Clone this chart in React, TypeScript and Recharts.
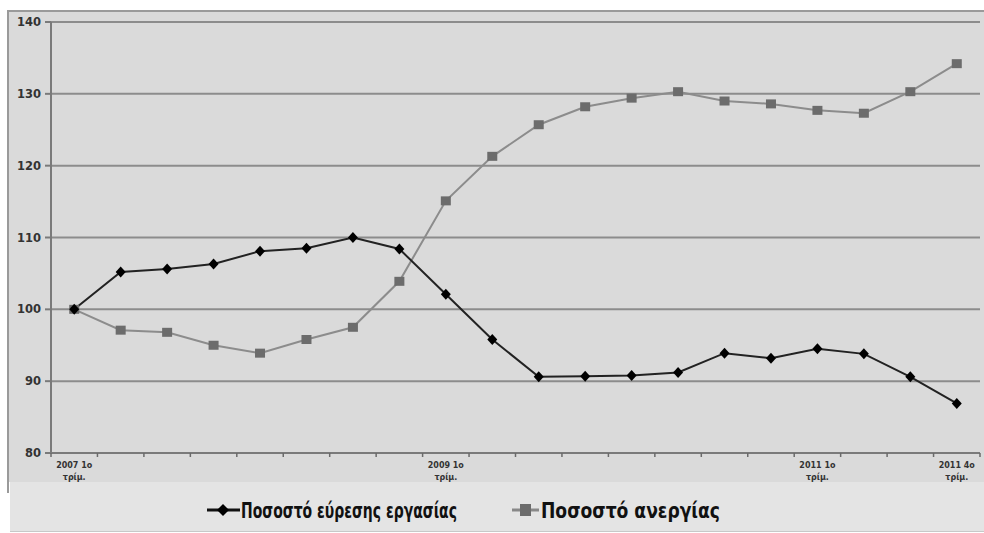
import React from "react";
import { CartesianGrid, Legend, Line, LineChart, XAxis, YAxis } from "recharts";

// quarterly index, 2007 1st quarter = 100
const quarters = [
  "2007 1ο τρίμ.", "2007 2ο τρίμ.", "2007 3ο τρίμ.", "2007 4ο τρίμ.",
  "2008 1ο τρίμ.", "2008 2ο τρίμ.", "2008 3ο τρίμ.", "2008 4ο τρίμ.",
  "2009 1ο τρίμ.", "2009 2ο τρίμ.", "2009 3ο τρίμ.", "2009 4ο τρίμ.",
  "2010 1ο τρίμ.", "2010 2ο τρίμ.", "2010 3ο τρίμ.", "2010 4ο τρίμ.",
  "2011 1ο τρίμ.", "2011 2ο τρίμ.", "2011 3ο τρίμ.", "2011 4ο τρίμ."
];
const jobFinding = [
  100, 105.2, 105.6, 106.3, 108.1, 108.5, 110.0, 108.4, 102.1, 95.8,
  90.6, 90.7, 90.8, 91.2, 93.9, 93.2, 94.5, 93.8, 90.6, 86.9
];
const unemployment = [
  100, 97.1, 96.8, 95.0, 93.9, 95.8, 97.5, 103.9, 115.1, 121.3,
  125.7, 128.2, 129.4, 130.3, 129.0, 128.6, 127.7, 127.3, 130.3, 134.2
];
const jobFindingName = "Ποσοστό εύρεσης εργασίας";
const unemploymentName = "Ποσοστό ανεργίας";
const labelledQuarters = [0, 8, 16, 19];
const yTicks = [80, 90, 100, 110, 120, 130, 140];

const data = quarters.map((q, i) => ({
  idx: i,
  quarter: q,
  jobFinding: jobFinding[i],
  unemployment: unemployment[i]
}));

// tick marks sit between the quarters (half values), labels on the quarters themselves
const boundaryTicks = quarters.map((_, i) => i - 0.5).concat(quarters.length - 0.5);
const xTicks = [...boundaryTicks, ...labelledQuarters].sort((a, b) => a - b);

const Diamond = (props: any) => {
  const { cx, cy } = props;
  if (cx == null || cy == null) return null;
  return <path d={`M${cx},${cy - 5.5}L${cx + 5},${cy}L${cx},${cy + 5.5}L${cx - 5},${cy}Z`} fill="#000" />;
};

const Square = (props: any) => {
  const { cx, cy } = props;
  if (cx == null || cy == null) return null;
  return <rect x={cx - 5} y={cy - 4.5} width={10} height={9} fill="#6c6c6c" />;
};

const QuarterTick = (props: any) => {
  const { x, y, payload } = props;
  const v: number = payload.value;
  if (!Number.isInteger(v)) {
    return <line x1={x} y1={y} x2={x} y2={y + 4} stroke="#6a6a6a" strokeWidth={1.5} />;
  }
  const parts = (quarters[v] ?? "").split(" ");
  return (
    <text x={x} y={y} textAnchor="middle" fontSize={8} fontWeight="bold" fill="#333" fontFamily="DejaVu Sans">
      <tspan x={x} dy={15}>{parts.slice(0, 2).join(" ")}</tspan>
      <tspan x={x} dy={12}>{parts[2]}</tspan>
    </text>
  );
};

const LegendContent = () => (
  <svg width={984} height={50} style={{ display: "block" }}>
    <line x1={207} y1={27} x2={240} y2={27} stroke="#111" strokeWidth={3} />
    <path d="M223,21L229,27L223,33L217,27Z" fill="#000" />
    <text
      x={241}
      y={35}
      fontSize={21}
      fontWeight="bold"
      fill="#111"
      fontFamily="'Liberation Sans Narrow', 'DejaVu Sans Condensed', sans-serif"
      textLength={216}
      lengthAdjust="spacingAndGlyphs">
      {jobFindingName}
    </text>
    <line x1={512} y1={27} x2={539} y2={27} stroke="#888" strokeWidth={3} />
    <rect x={520} y={21} width={11} height={12} fill="#6c6c6c" />
    <text
      x={541}
      y={35}
      fontSize={21}
      fontWeight="bold"
      fill="#111"
      fontFamily="'Liberation Sans Narrow', 'DejaVu Sans Condensed', sans-serif"
      textLength={179}
      lengthAdjust="spacingAndGlyphs">
      {unemploymentName}
    </text>
  </svg>
);

export default function App() {
  return (
    <div style={{ position: "absolute", left: 0, top: 0, width: 984, height: 533, background: "#fff", overflow: "hidden" }}>
      <div
        style={{
          position: "absolute",
          left: 7,
          top: 10,
          width: 977,
          height: 472,
          background: "#dadada",
          borderTop: "2px solid #9a9a9a",
          borderLeft: "2px solid #9a9a9a",
          boxSizing: "border-box"
        }}
      />
      <div style={{ position: "absolute", left: 7, top: 482, width: 2, height: 11, background: "#9a9a9a" }} />
      <div
        style={{
          position: "absolute",
          left: 10,
          top: 482,
          width: 974,
          height: 49,
          background: "#e4e4e4",
          borderBottom: "1px solid #c8c8c8"
        }}
      />
      <div style={{ position: "absolute", left: 0, top: 0 }}>
        <LineChart width={984} height={533} data={data} margin={{ top: 22, right: 4, left: 11, bottom: 0 }}>
          <CartesianGrid vertical={false} stroke="#8c8c8c" strokeWidth={2} />
          <XAxis
            dataKey="idx"
            type="number"
            domain={[-0.5, quarters.length - 0.5]}
            ticks={xTicks}
            interval={0}
            height={30}
            tickLine={false}
            tickSize={0}
            tickMargin={0}
            tick={QuarterTick}
            axisLine={{ stroke: "#7a7a7a", strokeWidth: 2 }}
          />
          <YAxis
            width={40}
            domain={[80, 140]}
            ticks={yTicks}
            interval={0}
            tickSize={6}
            tickMargin={4}
            stroke="#7a7a7a"
            strokeWidth={2}
            tick={{ fontSize: 11.5, fontWeight: "bold", fill: "#333", fontFamily: "DejaVu Sans" }}
          />
          <Legend verticalAlign="bottom" height={50} wrapperStyle={{ left: 0, width: 984 }} content={LegendContent} />
          <Line
            dataKey="unemployment"
            name={unemploymentName}
            stroke="#8c8c8c"
            strokeWidth={2}
            dot={Square}
            activeDot={false}
            isAnimationActive={false}
          />
          <Line
            dataKey="jobFinding"
            name={jobFindingName}
            stroke="#222"
            strokeWidth={2}
            dot={Diamond}
            activeDot={false}
            isAnimationActive={false}
          />
        </LineChart>
      </div>
    </div>
  );
}
